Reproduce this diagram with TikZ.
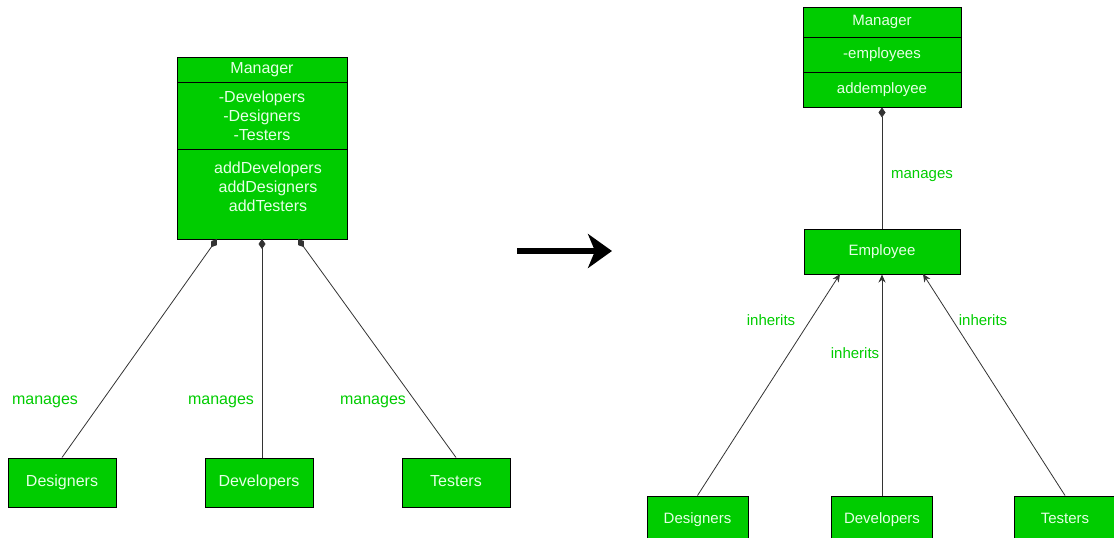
\documentclass[tikz,border=0pt]{standalone}
\usepackage{fontspec}
\setmainfont{Liberation Sans}
\usetikzlibrary{arrows.meta}
\definecolor{umlgreen}{HTML}{00CC00}
\definecolor{umltext}{HTML}{E6FFE6}

\begin{document}
\begin{tikzpicture}[x=1pt,y=-1pt,
			box/.style={draw=black,fill=umlgreen,text=umltext,align=center,inner sep=0pt,line width=1pt},
			oneline/.style={text height=0.75em,text depth=0.02em},
			big/.style={font=\fontsize{16}{19}\selectfont},
			small/.style={font=\fontsize{15}{18}\selectfont},
			lbl/.style={text=umlgreen},
			owns/.style={draw=black!80,line width=0.8pt,-{Diamond[length=10pt,width=7pt]}},
			isa/.style={draw=black!80,line width=0.8pt,-{Stealth[length=8pt,width=7pt]}}]
			\useasboundingbox (0,0) rectangle (1114,538);

			% before: the manager knows every kind of worker
			\node[box,big,oneline,minimum width=170,minimum height=25] (mgrLhead) at (262,69.5) {Manager};
			\node[box,big,minimum width=170,minimum height=67] (mgrLattr) at (262,115.5) {-Developers\\-Designers\\-Testers};
			\node[box,big,minimum width=170,minimum height=90] (mgrLops) at (262,194) {};
			\node[big,text=umltext,align=center] (mgrLtxt) at (268,187) {addDevelopers\\addDesigners\\addTesters};

			\node[box,big,oneline,minimum width=108,minimum height=49] (desL) at (62,482.5) {Designers};
			\node[box,big,oneline,minimum width=108,minimum height=49] (devL) at (259,482.5) {Developers};
			\node[box,big,oneline,minimum width=108,minimum height=49] (tstL) at (456,482.5) {Testers};

			\coordinate (hookL1) at (217,239);
			\coordinate (hookL2) at (262,239);
			\coordinate (hookL3) at (298,239);

			\draw[owns] (desL.north) -- (hookL1);
			\draw[owns] (devL.north -| hookL2) -- (hookL2);
			\draw[owns] (tstL.north) -- (hookL3);

			\node[lbl,big] (manL1) at (45,402) {manages};
			\node[lbl,big] (manL2) at (221,402) {manages};
			\node[lbl,big] (manL3) at (373,402) {manages};

			% refactoring arrow
			\coordinate (arrS) at (517,251);
			\coordinate (arrE) at (612,251);
			\draw[line width=6pt,-{Stealth[length=24pt,width=34pt,inset=7pt]}] (arrS) -- (arrE);

			% after: the manager knows only employees
			\node[box,small,oneline,minimum width=158,minimum height=30] (mgrRhead) at (882,22) {Manager};
			\node[box,small,oneline,minimum width=158,minimum height=35] (mgrRattr) at (882,54.5) {-employees};
			\node[box,small,oneline,minimum width=158,minimum height=35] (mgrRops) at (882,89.5) {addemployee};

			\node[box,small,oneline,minimum width=156,minimum height=45] (emp) at (882,251.5) {Employee};

			\node[box,small,oneline,minimum width=101,minimum height=48] (desR) at (697.5,520) {Designers};
			\node[box,small,oneline,minimum width=101,minimum height=48] (devR) at (882,520) {Developers};
			\node[box,small,oneline,minimum width=101,minimum height=48] (tstR) at (1065,520) {Testers};

			\draw[owns] (emp.north) -- (mgrRops.south);

			\coordinate (hookR1) at (840,274);
			\coordinate (hookR3) at (923,274);

			\draw[isa] (desR.north) -- (hookR1);
			\draw[isa] (devR.north) -- (emp.south);
			\draw[isa] (tstR.north) -- (hookR3);

			\node[lbl,small] (manR) at (922,176) {manages};
			\node[lbl,small] (inhR1) at (771,320) {inherits};
			\node[lbl,small] (inhR2) at (855,353) {inherits};
			\node[lbl,small] (inhR3) at (983,320) {inherits};
		\end{tikzpicture}
\end{document}
